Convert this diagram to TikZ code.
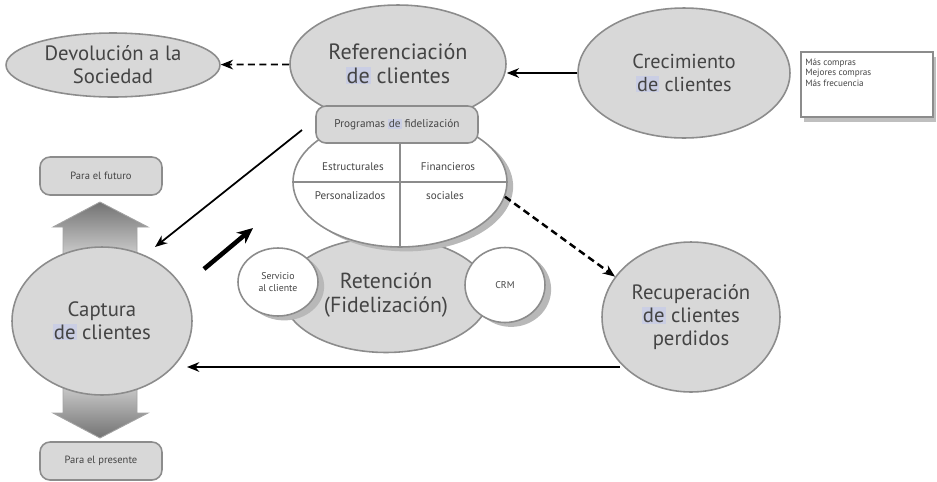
\documentclass[tikz,border=0pt]{standalone}
\usepackage{fontspec}
\setmainfont{PT Sans}
\usetikzlibrary{arrows.meta, shapes.geometric, shadows}

\definecolor{bubblegray}{RGB}{216,216,216}
\definecolor{edgegray}{RGB}{140,140,140}
\definecolor{textgray}{RGB}{68,68,68}
\definecolor{markblue}{RGB}{202,206,228}
\newcommand{\marcade}[1]{{\setlength{\fboxsep}{0.5pt}\colorbox{markblue}{#1}}}

\begin{document}
\begin{tikzpicture}[x=0.02cm, y=-0.02cm, every node/.style={text=textgray}, >={Stealth[length=7pt, width=5.5pt]}]
	\tikzstyle{bubble}=[
		ellipse,
		draw=edgegray,
		fill=bubblegray,
		line width=0.9pt,
		inner sep=0pt,
		align=center,
		font=\fontsize{11.8}{13}\selectfont
	]
	\tikzstyle{white bubble}=[
		bubble,
		fill=white,
		drop shadow={shadow xshift=3.5pt, shadow yshift=-2.5pt, fill=black!28, opacity=1}
	]
	\tikzstyle{tag}=[
		rectangle,
		rounded corners=0.2cm,
		draw=edgegray,
		fill=bubblegray,
		line width=0.9pt,
		inner sep=0pt,
		font=\fontsize{6}{7}\selectfont
	]
	\tikzstyle{small}=[
		inner sep=0pt,
		align=center,
		font=\fontsize{6.3}{7}\selectfont
	]
	\tikzstyle{wide arrow}=[
		draw=edgegray!80,
		line width=0.5pt
	]
	\tikzstyle{link}=[
		line width=1pt,
		->
	]
	\tikzstyle{dashlink}=[
		link,
		dash pattern=on 4pt off 2.5pt
	]

	\useasboundingbox (0,0) rectangle (937,481);

	% big gray arrows behind the capture bubble
	\path [wide arrow, top color=black!55, bottom color=black!18]
		(63,258) -- (63,227) -- (53,227) -- (100,202) -- (148,227) -- (137,227) -- (137,258) -- cycle;
	\path [wide arrow, top color=black!22, bottom color=black!55]
		(63,388) -- (63,413) -- (53,413) -- (100,438) -- (148,413) -- (137,413) -- (137,388) -- cycle;

	\node (dev) at (113,65) [bubble, minimum width=4.28cm, minimum height=1.28cm] {Devolución a la\\Sociedad};
	\node (ref) at (398,64) [bubble, minimum width=4.32cm, minimum height=2.36cm, font=\fontsize{12.6}{13.5}\selectfont] {Referenciación\\\marcade{de} clientes};
	\node (crec) at (684,73) [bubble, minimum width=4.24cm, minimum height=2.6cm, font=\fontsize{11.5}{13}\selectfont] {Crecimiento\\\marcade{de} clientes};
	\node (rec) at (691,317) [bubble, minimum width=3.56cm, minimum height=3cm] {Recuperación\\\marcade{de} clientes\\perdidos};
	\node (cap) at (102,321) [bubble, minimum width=3.6cm, minimum height=2.96cm] {Captura\\\marcade{de} clientes};

	\node (ret) at (386,295) [bubble, minimum width=4.12cm, minimum height=2.3cm, font=\fontsize{12.4}{13.5}\selectfont] {Retención\\(Fidelización)};
	\node (prg) at (400,182) [white bubble, minimum width=4.28cm, minimum height=2.6cm] {};
	\draw [edgegray, line width=0.8pt] (prg.west) -- (prg.east);
	\draw [edgegray, line width=0.8pt] (prg.center |- 0,130) -- (prg.south);
	\node (prog) at (397,124.5) [tag, minimum width=3.24cm, minimum height=0.74cm, font=\fontsize{6.4}{7}\selectfont] {Programas \marcade{de} fidelización};

	\node (est) at (353,167) [small] {Estructurales};
	\node (fin) at (448,167) [small] {Financieros};
	\node (per) at (350,196) [small] {Personalizados};
	\node (soc) at (445,196) [small] {sociales};

	\node (serv) at (278,282) [white bubble, minimum width=1.6cm, minimum height=1.36cm, font=\fontsize{5.6}{6.5}\selectfont] {Servicio\\al cliente};
	\node (crm) at (505,285) [white bubble, minimum width=1.6cm, minimum height=1.5cm, font=\fontsize{5.6}{6.5}\selectfont] {CRM};

	\node (fut) at (101,176) [tag, minimum width=2.44cm, minimum height=0.76cm] {Para el futuro};
	\node (pre) at (101,461) [tag, minimum width=2.44cm, minimum height=0.76cm] {Para el presente};

	\node (mas) at (867,84.5) [rectangle, draw=edgegray, fill=white, line width=0.9pt, minimum width=2.64cm, minimum height=1.3cm,
		drop shadow={shadow xshift=1.5pt, shadow yshift=-3pt, fill=black!25, opacity=1}] {};
	\node (lst) at (805,59) [anchor=north west, inner sep=0pt, align=left, font=\fontsize{5.2}{4.5}\selectfont] {Más compras\\Mejores compras\\Más frecuencia};

	\coordinate (a1) at (302,130);
	\coordinate (a2) at (155,247);
	\coordinate (t1) at (204,269);
	\coordinate (t2) at (253,228);
	\coordinate (r1) at (620,367);
	\coordinate (r2) at (187,367);

	\draw [dashlink] (ref) -- (dev);
	\draw [link] (crec.west) -- (crec.west -| ref.east);
	\draw [link] (a1) -- (a2);
	\draw [line width=2.6pt, -{Stealth[length=9pt, width=8pt]}] (t1) -- (t2);
	\draw [dashlink, line width=1.4pt] (prg.-8) -- (rec.152);
	\draw [link] (r1) -- (r2);
\end{tikzpicture}
\end{document}
